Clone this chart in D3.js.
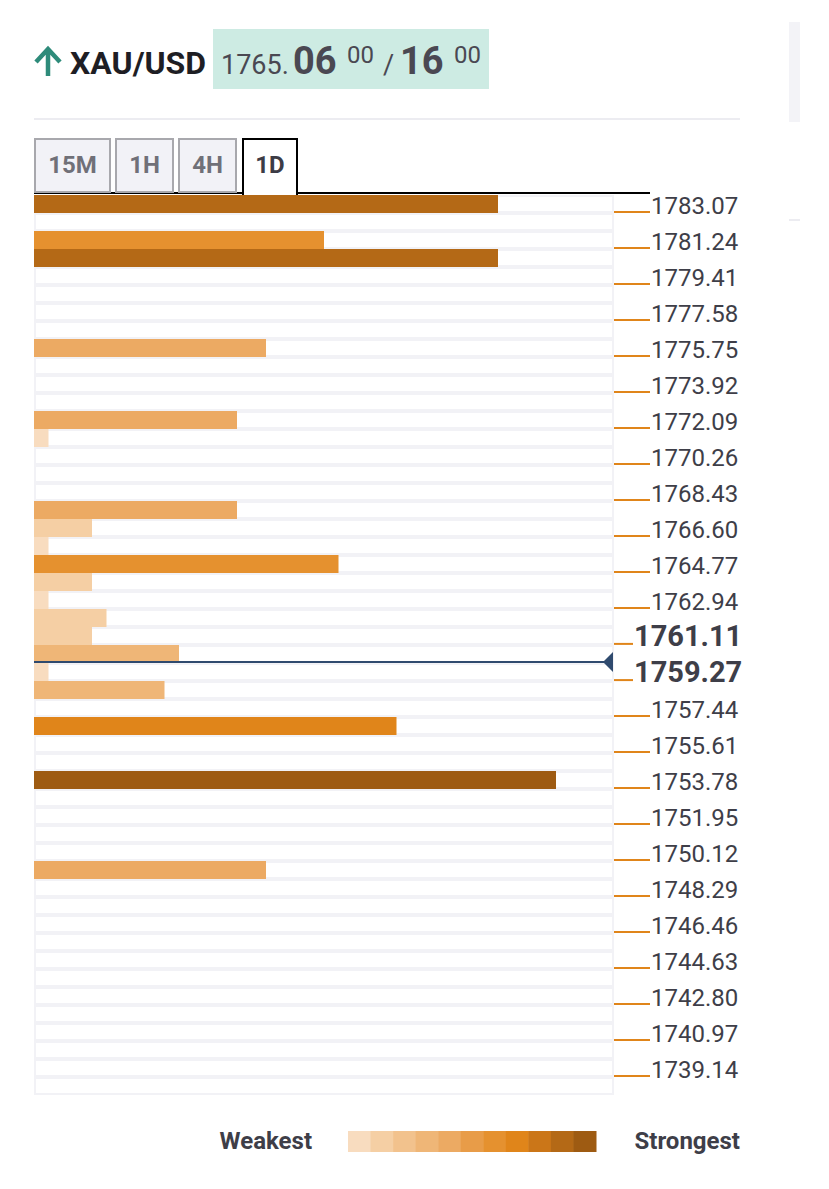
<!DOCTYPE html>
<html>
<head>
<meta charset="utf-8">
<script src="https://cdn.jsdelivr.net/npm/d3@7"></script>
<style>
  body { margin: 0; background: #fff; }
  svg { display: block; font-family: Roboto, "Noto Sans", sans-serif; }
</style>
</head>
<body>
<svg width="829" height="1189"></svg>
<script>
// price levels shown on the right (one per two rows)
var levels = [1783.07, 1781.24, 1779.41, 1777.58, 1775.75, 1773.92, 1772.09, 1770.26,
    1768.43, 1766.60, 1764.77, 1762.94, 1761.11, 1759.27, 1757.44, 1755.61, 1753.78,
    1751.95, 1750.12, 1748.29, 1746.46, 1744.63, 1742.80, 1740.97, 1739.14];

// confluence strength per row, top to bottom (50 rows)
var strength = [32, 0, 20, 32, 0, 0, 0, 0, 16, 0,
    0, 0, 14, 1, 0, 0, 0, 14, 4, 1,
    21, 4, 1, 5, 4, 10, 1, 9, 0, 25,
    0, 0, 36, 0, 0, 0, 0, 16, 0, 0,
    0, 0, 0, 0, 0, 0, 0, 0, 0, 0];

var currentPrice = 1760.19;
var tabs = ["15M", "1H", "4H", "1D"];
var activeTab = "1D";
var legendColors = ["#f8dcbf", "#f5cfa4", "#f2c28d", "#efb677", "#ecaa63", "#e89c48",
    "#e5912f", "#e0851a", "#cb7618", "#b46916", "#9e5b12"];
var strengthBreaks = [3, 6, 8, 12, 17, 19, 23, 27, 30, 34];

var svg = d3.select("svg");

// ---- header ----
var head = svg.append("g");
head.append("path")
    .attr("d", "M48,76 L48,51 M36,62 L48,49 L60,62")
    .attr("fill", "none")
    .attr("stroke", "#2e8b7a")
    .attr("stroke-width", 4.5);
head.append("text")
    .attr("x", 70).attr("y", 74)
    .attr("font-size", 32).attr("font-weight", 700)
    .attr("fill", "#1e1e24")
    .text("XAU/USD");
head.append("rect")
    .attr("x", 213).attr("y", 29).attr("width", 276).attr("height", 60)
    .attr("fill", "#cdebe3");
var price = head.append("text").attr("y", 74).attr("fill", "#4a4852");
price.append("tspan").attr("x", 221).attr("font-size", 27).text("1765.");
price.append("tspan").attr("x", 293).attr("font-size", 38).attr("font-weight", 700).text("06");
price.append("tspan").attr("x", 347).attr("dy", -11).attr("font-size", 24).text("00");
price.append("tspan").attr("x", 383).attr("dy", 11).attr("font-size", 27).text("/");
price.append("tspan").attr("x", 400).attr("font-size", 38).attr("font-weight", 700).text("16");
price.append("tspan").attr("x", 454).attr("dy", -11).attr("font-size", 24).text("00");

svg.append("rect")
    .attr("x", 34).attr("y", 118).attr("width", 706).attr("height", 2)
    .attr("fill", "#ececf1");

// side panel remnants
svg.append("rect").attr("x", 789).attr("y", 22).attr("width", 11).attr("height", 100).attr("fill", "#f3f3f7");
svg.append("rect").attr("x", 789).attr("y", 219).attr("width", 11).attr("height", 2).attr("fill", "#ececf1");

// ---- tabs ----
var tabX = d3.scaleOrdinal().domain(tabs).range([34, 115, 178, 242]);
var tabW = d3.scaleOrdinal().domain(tabs).range([77, 59, 59, 56]);

svg.append("line")
    .attr("x1", 34).attr("x2", 650).attr("y1", 193).attr("y2", 193)
    .attr("stroke", "#000").attr("stroke-width", 2);

var tab = svg.append("g").selectAll("g").data(tabs).enter().append("g");
tab.append("rect")
    .attr("x", function(d) { return tabX(d) + 1; })
    .attr("y", 139)
    .attr("width", function(d) { return tabW(d) - 2; })
    .attr("height", function(d) { return d == activeTab ? 56 : 53; })
    .attr("fill", function(d) { return d == activeTab ? "#fff" : "#f2f2f7"; })
    .attr("stroke", function(d) { return d == activeTab ? "#000" : "#a8a8ad"; })
    .attr("stroke-width", 2);
tab.filter(function(d) { return d == activeTab; }).append("rect")
    .attr("x", function(d) { return tabX(d) + 2; })
    .attr("y", 190).attr("width", function(d) { return tabW(d) - 4; }).attr("height", 6)
    .attr("fill", "#fff");
tab.append("text")
    .attr("x", function(d) { return tabX(d) + tabW(d) / 2; })
    .attr("y", 173)
    .attr("text-anchor", "middle")
    .attr("font-size", 24).attr("font-weight", 700)
    .attr("fill", function(d) { return d == activeTab ? "#3c3c46" : "#707078"; })
    .text(function(d) { return d; });

// ---- chart ----
var left = 34, right = 614;
var rows = d3.scaleBand().domain(d3.range(strength.length)).range([195, 1095]);
var tickY = function(i) { return rows(i * 2) + rows.bandwidth() - 1; };
var y = d3.scaleLinear()
    .domain([levels[0], levels[levels.length - 1]])
    .range([tickY(0), tickY(levels.length - 1)]);
var x = d3.scaleLinear().domain([0, 40]).range([left, right]);
var color = d3.scaleThreshold().domain(strengthBreaks).range(legendColors);

var rowG = svg.append("g").selectAll("g").data(strength).enter().append("g")
    .attr("transform", function(d, i) { return "translate(0," + rows(i) + ")"; });
rowG.append("rect")
    .attr("x", left).attr("width", right - left).attr("height", rows.bandwidth())
    .attr("fill", "#f2f2f6");
rowG.append("rect")
    .attr("x", left + 2).attr("y", 2)
    .attr("width", right - left - 4).attr("height", rows.bandwidth() - 4)
    .attr("fill", "#fff");

// current price line
var py = y(currentPrice);
svg.append("line")
    .attr("x1", left).attr("x2", right - 6).attr("y1", py).attr("y2", py)
    .attr("stroke", "#2f4a6e").attr("stroke-width", 2);
svg.append("path")
    .attr("d", "M" + (right - 11) + "," + py + "L" + (right - 1) + "," + (py - 10) + "L" + (right - 1) + "," + (py + 10) + "Z")
    .attr("fill", "#2f4a6e");

rowG.filter(function(d) { return d > 0; }).append("rect")
    .attr("x", left)
    .attr("width", function(d) { return x(d) - left; })
    .attr("height", rows.bandwidth())
    .attr("fill", function(d) { return color(d); });

// nearest levels above and below current price are highlighted
var above = d3.min(levels.filter(function(v) { return v >= currentPrice; }));
var below = d3.max(levels.filter(function(v) { return v < currentPrice; }));
var isNear = function(v) { return v == above || v == below; };

var lab = svg.append("g").selectAll("g").data(levels).enter().append("g")
    .attr("transform", function(d) { return "translate(0," + y(d) + ")"; });
lab.append("line")
    .attr("x1", right).attr("x2", function(d) { return isNear(d) ? 633 : 650; })
    .attr("stroke", "#e0851a").attr("stroke-width", 2);
lab.append("text")
    .attr("x", function(d) { return isNear(d) ? 634 : 651; })
    .attr("y", 2)
    .attr("font-size", function(d) { return isNear(d) ? 29 : 24; })
    .attr("font-weight", function(d) { return isNear(d) ? 700 : 400; })
    .attr("fill", "#3e3e48")
    .text(function(d) { return d3.format(".2f")(d); });

// ---- legend ----
var lx = d3.scaleBand().domain(d3.range(legendColors.length)).range([348, 596]);
svg.append("g").selectAll("rect").data(legendColors).enter().append("rect")
    .attr("x", function(d, i) { return lx(i); })
    .attr("y", 1131)
    .attr("width", lx.bandwidth() + 0.5)
    .attr("height", 21)
    .attr("fill", function(d) { return d; });
svg.append("text")
    .attr("x", 312).attr("y", 1149).attr("text-anchor", "end")
    .attr("font-size", 24).attr("font-weight", 700).attr("fill", "#3e3e48")
    .text("Weakest");
svg.append("text")
    .attr("x", 740).attr("y", 1149).attr("text-anchor", "end")
    .attr("font-size", 24).attr("font-weight", 700).attr("fill", "#3e3e48")
    .text("Strongest");
</script>
</body>
</html>
